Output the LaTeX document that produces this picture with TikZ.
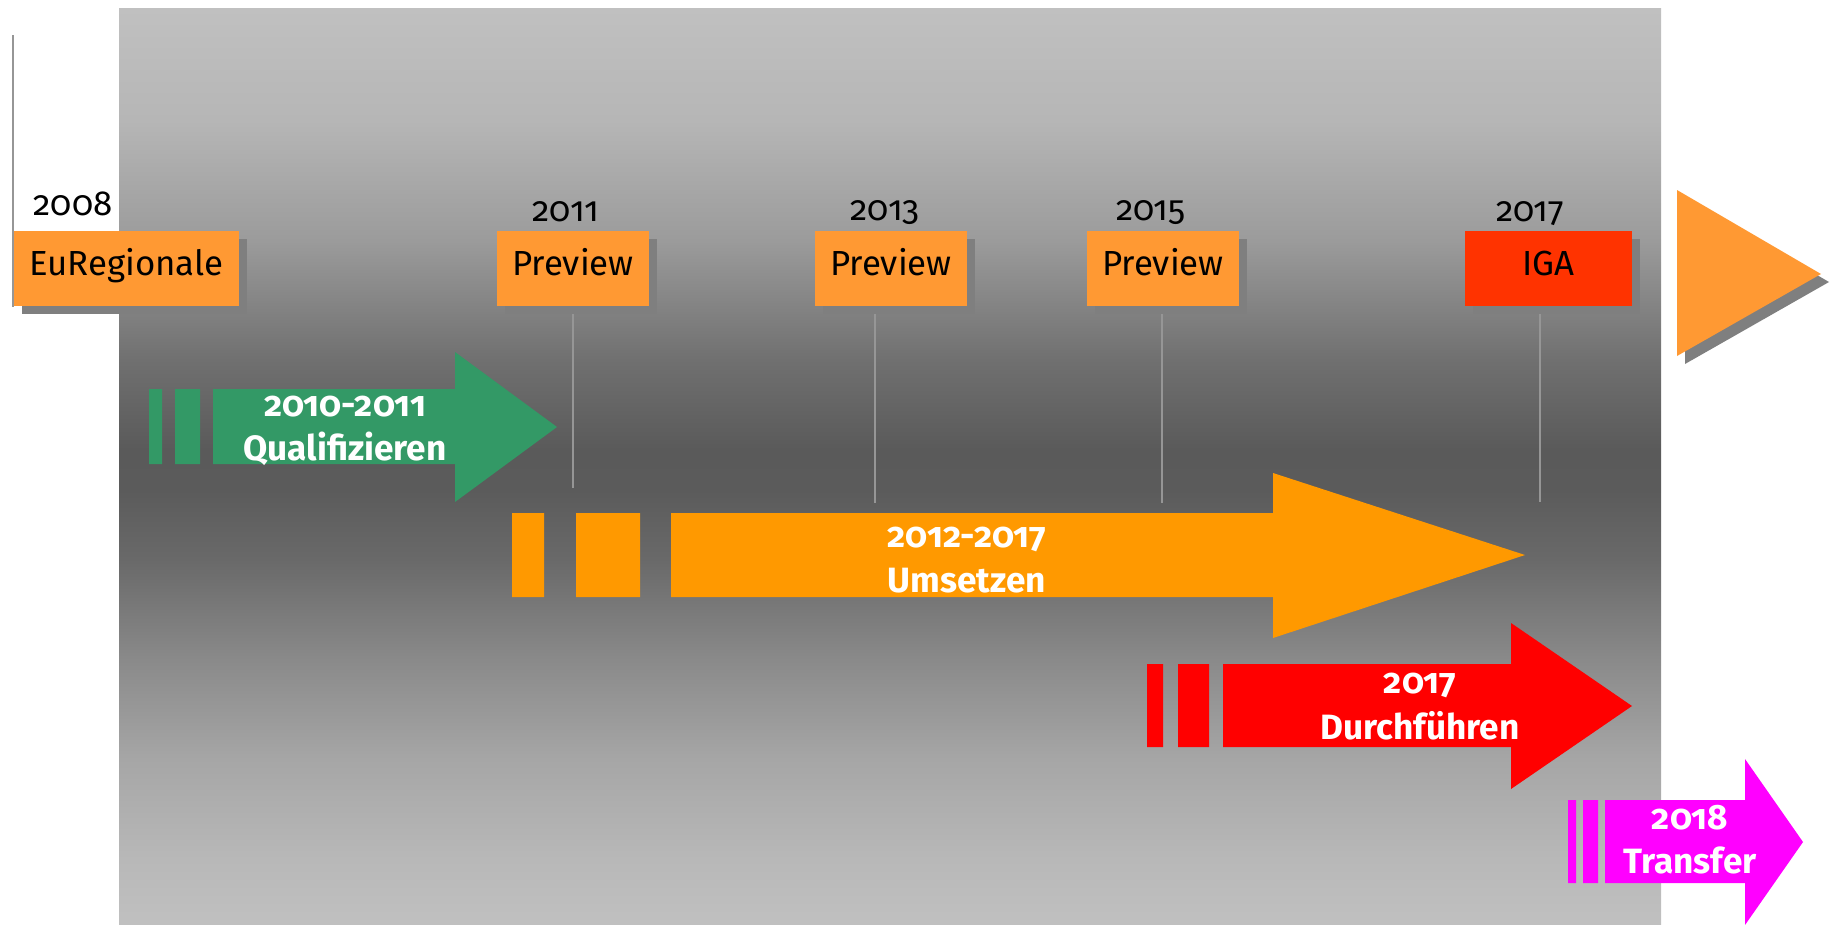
\documentclass[tikz,border=0pt]{standalone}
\usepackage{fontspec}
\setmainfont{Fira Sans}[Numbers=OldStyle]
\usepackage{tikz}
\usetikzlibrary{shadows,backgrounds,calc}
\definecolor{boxorange}{HTML}{FF9933}
\definecolor{igared}{HTML}{FF3300}
\definecolor{shadowgray}{HTML}{7F7F7F}
\definecolor{stemgray}{HTML}{969696}
\definecolor{qgreen}{HTML}{339966}
\definecolor{uorange}{HTML}{FF9900}
\definecolor{dred}{HTML}{FF0000}
\definecolor{tmagenta}{HTML}{FF00FF}
\pgfdeclareverticalshading{backdrop}{100bp}{
  color(0bp)=(black!24.7); color(25bp)=(black!24.7);
  color(28.5bp)=(black!27.8); color(34bp)=(black!34.9);
  color(39.4bp)=(black!45.9); color(44.9bp)=(black!58.8);
  color(48.7bp)=(black!64.3); color(50.9bp)=(black!64.7);
  color(55.8bp)=(black!56.1); color(62.3bp)=(black!39.2);
  color(68.9bp)=(black!28.6); color(75bp)=(black!24.7);
  color(100bp)=(black!24.7)
}
\tikzstyle{timeline}=[
  x=0.01cm, y=-0.01cm, font=\fontsize{9.9}{12}\selectfont
]
\tikzstyle{lifted}=[
  drop shadow={shadow xshift=0.08cm, shadow yshift=-0.08cm, opacity=1, fill=shadowgray}
]
\tikzstyle{milestone}=[
  lifted, fill=boxorange, inner sep=0pt, minimum width=1.52cm, minimum height=0.75cm,
  text height=0.7em, text depth=0.32em
]
\tikzstyle{year}=[
  anchor=base, inner sep=0pt
]
\tikzstyle{phase}=[
  anchor=base, inner sep=0pt, text=white, font=\fontsize{10}{12}\selectfont\bfseries
]
\tikzstyle{stem}=[
  draw=stemgray, line width=0.015cm
]

\begin{document}
\begin{tikzpicture}[timeline]
    \useasboundingbox (0,0) rectangle (1830,924);
        \node (eureg) at (126.5,268.5) [milestone, minimum width=2.25cm] {EuRegionale};
        \node (p2011) at (573,268.5) [milestone] {Preview};
        \node (p2013) at (891,268.5) [milestone] {Preview};
        \node (p2015) at (1163,268.5) [milestone] {Preview};
        \node (iga) at (1548.5,268.5) [milestone, fill=igared, minimum width=1.67cm] {IGA};
        \node (y2008) at (73,215) [year] {2008};
        \node (y2011) at (566,221) [year] {2011};
        \node (y2013) at (885,220) [year] {2013};
        \node (y2015) at (1151,220) [year] {2015};
        \node (y2017) at (1530,221) [year] {2017};
        \coordinate (mark) at (13,35);
        \coordinate (s2011) at (573,488);
        \coordinate (s2013) at (875,503);
        \coordinate (s2015) at (1162,503);
        \coordinate (s2017) at (1540,502);

        \begin{scope}[on background layer]
          \shade[shading=backdrop] (119,8) rectangle (1661,924);
          \draw [stem, line width=0.02cm] (mark) -- (mark |- eureg.south);
          \draw [stem] (s2011 |- p2011.south) -- (s2011);
          \draw [stem] (s2013 |- p2013.south) -- (s2013);
          \draw [stem] (s2015 |- p2015.south) -- (s2015);
          \draw [stem] (s2017 |- iga.south) -- (s2017);
        \end{scope}

        \fill [boxorange, lifted] (1677,190) -- (1677,356) -- (1821,274) -- cycle;

        % phases
        \fill [qgreen] (149,389) rectangle (162,464) (175,389) rectangle (200,464)
          (213,389) -- (455,389) -- (455,352) -- (557,427) -- (455,502) -- (455,464) -- (213,464) -- cycle;
        \fill [uorange] (512,513) rectangle (544,597) (576,513) rectangle (640,597)
          (671,513) -- (1273,513) -- (1273,473) -- (1525,555) -- (1273,638) -- (1273,597) -- (671,597) -- cycle;
        \fill [dred] (1147,664) rectangle (1163,747) (1178,664) rectangle (1209,747)
          (1223,664) -- (1511,664) -- (1511,623) -- (1632,706) -- (1511,789) -- (1511,747) -- (1223,747) -- cycle;
        \fill [tmagenta] (1568,800) rectangle (1576,883) (1583,800) rectangle (1598,883)
          (1605,800) -- (1745,800) -- (1745,759) -- (1803,842) -- (1745,925) -- (1745,883) -- (1605,883) -- cycle;

        \node (qyear) at (345,416) [phase] {2010-2011};
        \node (qname) at (345,460) [phase] {Qualifizieren};
        \node (uyear) at (967,547) [phase] {2012-2017};
        \node (uname) at (967,592) [phase] {Umsetzen};
        \node (dyear) at (1420,693) [phase] {2017};
        \node (dname) at (1420,739) [phase] {Durchführen};
        \node (tyear) at (1690,829) [phase] {2018};
        \node (tname) at (1690,873) [phase] {Transfer};
\end{tikzpicture}
\end{document}
